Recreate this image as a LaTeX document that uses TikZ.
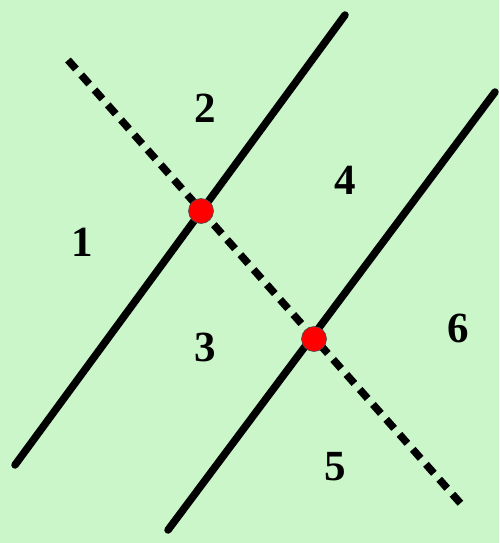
\documentclass[tikz,border=0pt]{standalone}
\usepackage{fontspec}
\setmainfont{Liberation Serif}
\usepackage{xcolor}
\usetikzlibrary{calc}
\definecolor{bggreen}{RGB}{202,246,202}
\definecolor{dotred}{RGB}{255,0,0}

\begin{document}
\begin{tikzpicture}[x=1pt,y=-1pt,
  parline/.style={line width=7.5pt,line cap=round},
  cutline/.style={line width=7.5pt,dash pattern=on 12pt off 8pt},
  meet/.style={circle,fill=dotred,draw=black!70,line width=0.6pt,minimum size=25pt,inner sep=0pt},
  region/.style={font=\fontsize{43}{46}\selectfont\bfseries}]
  \fill[bggreen] (0,0) rectangle (499,543);
  \useasboundingbox (0,0) rectangle (499,543);
  % the two parallel lines
  \coordinate (p1a) at (15,465);
  \coordinate (p1b) at (345,15);
  \coordinate (p2a) at (168,530);
  \coordinate (p2b) at (495,92);
  \draw[parline] (p1a) -- (p1b);
  \draw[parline] (p2a) -- (p2b);
  % the transversal
  \coordinate (ta) at (68,60);
  \coordinate (tb) at (462,505);
  \draw[cutline] (ta) -- (tb);
  % intersection points
  \node[meet] (m1) at (201,211) {};
  \node[meet] (m2) at (314,339) {};
  % regions
  \node[region] (r1) at (82,242) {1};
  \node[region] (r2) at (205,108) {2};
  \node[region] (r3) at (205,347) {3};
  \node[region] (r4) at (345,180) {4};
  \node[region] (r5) at (335,467) {5};
  \node[region] (r6) at (458,328) {6};
\end{tikzpicture}
\end{document}
